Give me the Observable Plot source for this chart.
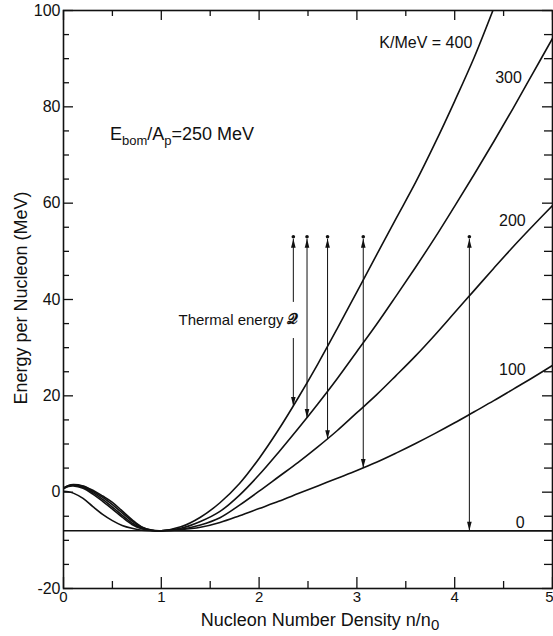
<!DOCTYPE html>
<html><head><meta charset="utf-8">
<script src="https://cdn.jsdelivr.net/npm/d3@7"></script>
<script src="https://cdn.jsdelivr.net/npm/@observablehq/plot@0.6"></script>
<style>
body{margin:0;background:#fff;}
#chart{width:553px;height:636px;}
</style></head><body><div id="chart"></div>
<script>
// ---- data ----
const density = [0,0.05,0.1,0.2,0.3,0.4,0.5,0.6,0.7,0.8,0.9,1.0,
  1.2,1.4,1.6,1.8,2.0,2.2,2.4,2.6,2.8,3.0,3.2,3.4,3.6,3.8,4.0,4.2,4.4,4.6,4.8,5.0];
const energyK400 = [0.9,1.4,1.6,1.3,0.4,-0.8,-2.1,-3.9,-5.7,-7.2,-7.85,-8,
  -7.2,-5.2,-2.2,1.8,7.0,13.0,19.6,26.6,34.0,41.6,49.2,56.8,64.3,72.5,81.2,90.3,100.5,null,null,null];
const energyK300 = [0.85,1.35,1.5,1.2,0.2,-1.1,-2.6,-4.3,-6.0,-7.3,-7.9,-8,
  -7.5,-6.1,-4.0,-0.6,3.6,8.3,13.2,18.3,23.6,29.2,34.8,40.7,46.7,52.9,59.4,66.0,72.8,79.8,87.0,94.2];
const energyK200 = [0.8,1.3,1.45,1.0,-0.1,-1.5,-3.1,-4.8,-6.4,-7.5,-7.95,-8,
  -7.7,-6.8,-5.3,-2.7,0.2,3.2,6.2,9.4,12.8,16.5,20.2,24.2,28.3,32.7,37.3,41.9,46.5,51.0,55.3,59.5];
const energyK100 = [0.7,1.2,1.3,0.8,-0.4,-1.9,-3.5,-5.2,-6.7,-7.6,-7.95,-8,
  -7.8,-7.3,-6.3,-4.9,-3.4,-1.9,-0.3,1.3,2.9,4.5,6.2,8.1,10.1,12.2,14.4,16.7,19.0,21.4,23.8,26.3];
const energyK0 = [0.2,0.1,-0.2,-1.3,-3.0,-4.6,-5.9,-6.9,-7.5,-7.9,-8,-8,
  -8,-8,-8,-8,-8,-8,-8,-8,-8,-8,-8,-8,-8,-8,-8,-8,-8,-8,-8,-8];
const kValues = [400,300,200,100,0];
const kLabels = ["K/MeV = 400","300","200","100","0"];
const groundEnergy = -8;

const arrowDensity = [2.35,2.49,2.70,3.065,4.15];
const arrowTop = [52.6,52.6,52.6,52.6,52.6];
const arrowBottom = [17.9,15.4,11.0,5.0,-8];
const labelGap = [39.5,32.0]; // break in the first arrow around the label

const xTicksMajor = [0,1,2,3,4,5];
const xTicksMinor = [0.5,1.5,2.5,3.5,4.5];
const yTicksMajor = [-20,0,20,40,60,80,100];
const yTicksMinor = [-15,-10,-5,5,10,15,25,30,35,45,50,55,65,70,75,85,90,95];

// ---- build rows ----
const series = [energyK400,energyK300,energyK200,energyK100,energyK0];
const curveRows = kValues.flatMap((k,i)=>density.map((x,j)=>({k, x, y: series[i][j]})));
const arrows = arrowDensity.map((x,i)=>({x, top: arrowTop[i], bottom: arrowBottom[i]}));
const shafts = arrows.flatMap((a,i)=> i===0
  ? [{x:a.x,y1:a.top,y2:labelGap[0]},{x:a.x,y1:labelGap[1],y2:a.bottom}]
  : [{x:a.x,y1:a.top,y2:a.bottom}]);

const W = 553, H = 636, mL = 63, mR = 1, mT = 10, mB = 48;
const iw = W - mL - mR, ih = H - mT - mB;
const ink = "#111";

const headDown = {draw(c){c.moveTo(0,0);c.lineTo(-2.3,-9);c.lineTo(2.3,-9);c.closePath();}};
const headUp = {draw(c){c.moveTo(0,0);c.lineTo(-2.3,9);c.lineTo(2.3,9);c.closePath();}};

const plot = Plot.plot({
  width: W, height: H,
  marginLeft: mL, marginRight: mR, marginTop: mT, marginBottom: mB,
  style: {fontFamily: "'Liberation Sans', Arial, sans-serif", fontSize: "16px", color: ink, background: "#fff"},
  x: {domain: [0,5]},
  y: {domain: [-20,100]},
  marks: [
    Plot.ruleY([groundEnergy], {stroke: ink, strokeWidth: 1.6}),
    Plot.line(curveRows, {x:"x", y:"y", z:"k", stroke: ink, strokeWidth: 1.6, curve: "catmull-rom", clip: true}),
    Plot.link(shafts, {x1:"x", x2:"x", y1:"y1", y2:"y2", stroke: ink, strokeWidth: 1}),
    Plot.dot(arrows, {x:"x", y:"bottom", symbol: headDown, r: 3, fill: ink, stroke: null}),
    Plot.dot(arrows, {x:"x", y:"top", symbol: headUp, r: 3, fill: ink, stroke: null}),
    Plot.dot(arrows, {x:"x", y: d => d.top, dy: -2, r: 1.8, fill: ink, stroke: null}),
    // frame and inward ticks
    Plot.frame({stroke: ink, strokeWidth: 1.6}),
    Plot.tickX(xTicksMajor, {x: d=>d, insetTop: ih-11, stroke: ink, strokeWidth: 1.3}),
    Plot.tickX(xTicksMinor, {x: d=>d, insetTop: ih-7, stroke: ink, strokeWidth: 1.3}),
    Plot.tickX(xTicksMajor, {x: d=>d, insetBottom: ih-10, stroke: ink, strokeWidth: 1.3}),
    Plot.tickX(xTicksMinor, {x: d=>d, insetBottom: ih-6, stroke: ink, strokeWidth: 1.3}),
    Plot.tickY(yTicksMajor, {y: d=>d, insetRight: iw-10, stroke: ink, strokeWidth: 1.3}),
    Plot.tickY(yTicksMinor, {y: d=>d, insetRight: iw-6, stroke: ink, strokeWidth: 1.3}),
    Plot.tickY(yTicksMajor, {y: d=>d, insetLeft: iw-10, stroke: ink, strokeWidth: 1.3}),
    Plot.tickY(yTicksMinor, {y: d=>d, insetLeft: iw-8, stroke: ink, strokeWidth: 1.3}),
    Plot.axisX({ticks: xTicksMajor.slice(0,-1), tickSize: 0, tickPadding: 3, tickFormat: d=>String(d), label: null, fontSize: 15, fill: ink}),
    Plot.axisX({ticks: xTicksMajor.slice(-1), tickSize: 0, tickPadding: 3, tickFormat: d=>String(d), label: null, fontSize: 15, fill: ink, textAnchor: "end", dx: 1}),
    Plot.axisY({ticks: yTicksMajor, tickSize: 0, tickPadding: 3, tickFormat: d=>String(d), label: null, fontSize: 16, fill: ink}),
    // curve labels
    Plot.text([kLabels[0]], {x: 4.18, y: 93.3, text: d=>d, textAnchor: "end", fontSize: 16, fill: ink}),
    Plot.text(kLabels.slice(1), {x: [4.55,4.59,4.59,4.67], y: [86.1,56.4,25.3,-6.3], text: d=>d, fontSize: 16, fill: ink}),
    Plot.text(["Thermal energy"], {x: 2.25, y: 35.7, text: d=>d, textAnchor: "end", fontSize: 15, fill: ink}),
    Plot.text(["\u{1D4AC}"], {x: 2.34, y: 35.9, text: d=>d, fontSize: 15, fontWeight: "bold", fill: ink})
  ]
});
document.getElementById("chart").appendChild(plot);

// rich text titles with subscripts
const svg = d3.select(plot);
const font = "'Liberation Sans', Arial, sans-serif";
svg.append("text")
  .attr("transform", "translate(22,298) rotate(-90)")
  .attr("text-anchor","middle").attr("dominant-baseline","middle")
  .attr("font-family", font).attr("font-size", 18).attr("fill", ink)
  .text("Energy per Nucleon (MeV)");
const xt = svg.append("text").attr("x", 320).attr("y", 626)
  .attr("text-anchor","middle").attr("font-family", font).attr("font-size", 18).attr("fill", ink);
xt.append("tspan").text("Nucleon Number Density n/n");
xt.append("tspan").attr("dy", 4).attr("font-size", 15).text("0");
const et = svg.append("text").attr("x", 110).attr("y", 140).attr("text-anchor","start")
  .attr("font-family", font).attr("font-size", 18).attr("fill", ink);
et.append("tspan").text("E");
et.append("tspan").attr("dy", 5).attr("font-size", 13).text("bom");
et.append("tspan").attr("dy", -5).text("/A");
et.append("tspan").attr("dy", 5).attr("font-size", 13).text("p");
et.append("tspan").attr("dy", -5).text("=250 MeV");
</script></body></html>
